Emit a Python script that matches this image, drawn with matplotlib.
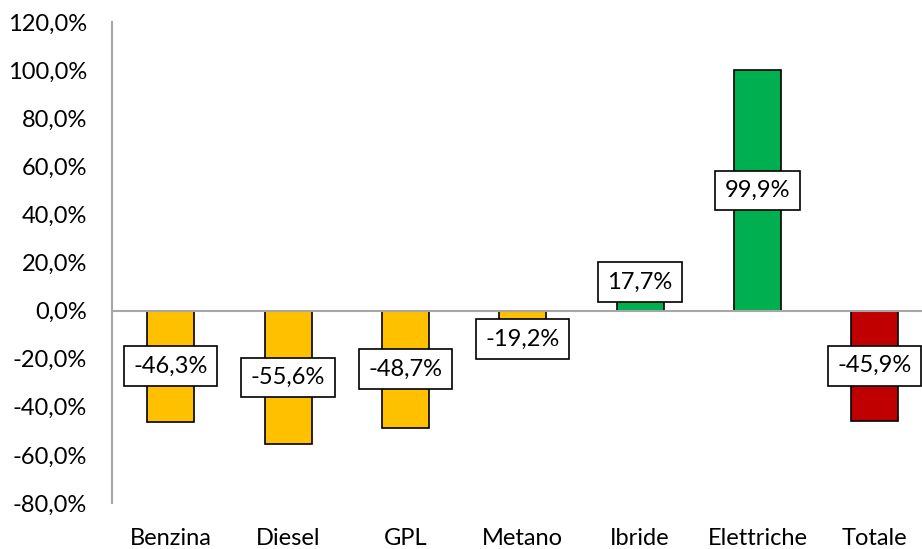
import matplotlib
matplotlib.use("Agg")
import matplotlib.pyplot as plt
from matplotlib.ticker import FuncFormatter

categories = ["Benzina", "Diesel", "GPL", "Metano", "Ibride", "Elettriche", "Totale"]
values = [-46.3, -55.6, -48.7, -19.2, 17.7, 99.9, -45.9]
labels = ["-46,3%", "-55,6%", "-48,7%", "-19,2%", "17,7%", "99,9%", "-45,9%"]
colors = ["#FFC000", "#FFC000", "#FFC000", "#FFC000", "#00B050", "#00B050", "#C00000"]
yticks = [-80, -60, -40, -20, 0, 20, 40, 60, 80, 100, 120]

plt.rcParams['font.family'] = ['Lato', 'DejaVu Sans']

fig = plt.figure(figsize=(9.22, 5.49), dpi=100)
ax = fig.add_axes([0.1215, 0.0838, 0.891, 0.876])

x = list(range(len(categories)))
ax.bar(x, values, width=0.40, color=colors, edgecolor="black", linewidth=1.2, zorder=2)

ax.set_xlim(-0.5, len(categories) - 0.5)
ax.set_ylim(-80, 120)
ax.set_yticks(yticks)
ax.yaxis.set_major_formatter(FuncFormatter(lambda v, p: f"{v:.1f}%".replace(".", ",")))
ax.set_xticks(x)
ax.set_xticklabels(categories)
ax.tick_params(axis="both", length=0, labelsize=17, colors="black")
ax.tick_params(axis="y", pad=18)
ax.tick_params(axis="x", pad=18)

for s in ["top", "right", "bottom"]:
    ax.spines[s].set_visible(False)
ax.spines["left"].set_color("#A6A6A6")
ax.spines["left"].set_linewidth(1.5)
ax.axhline(0, color="#A6A6A6", linewidth=1.5, zorder=3)

min_off = 11.85
for xi, v, lab in zip(x, values, labels):
    yc = max(abs(v) / 2, min_off) * (1 if v >= 0 else -1)
    ax.text(xi, yc, lab, ha="center", va="center", fontsize=17, zorder=5,
            bbox=dict(boxstyle="square,pad=0.4", facecolor="white", edgecolor="black", linewidth=1.2))

fig.savefig("out.png", dpi=100)
